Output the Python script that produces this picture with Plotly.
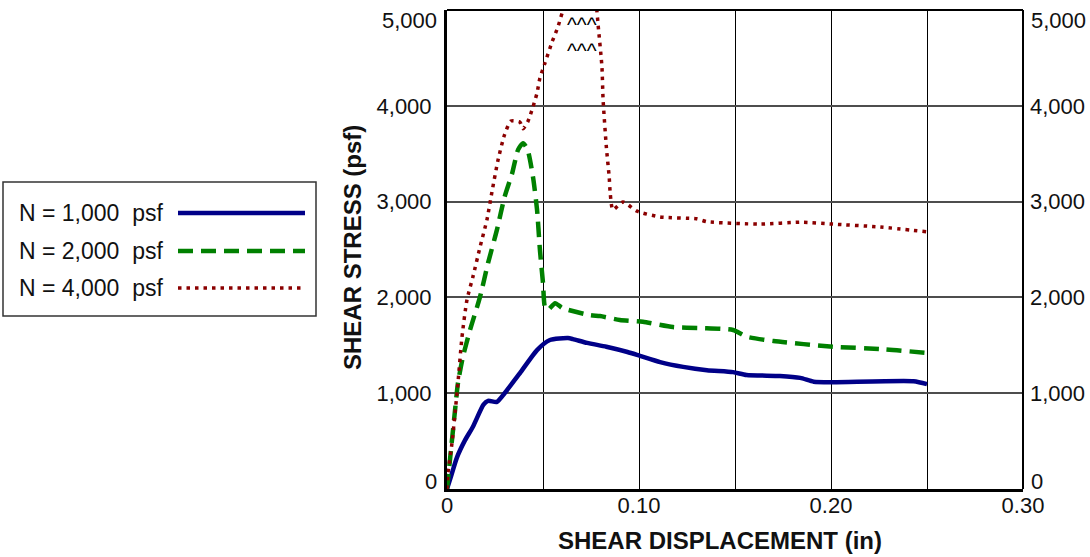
import plotly.graph_objects as go

# Shear displacement (in) vs shear stress (psf) for three normal loads
disp_1000 = [0, 0.0016, 0.0052, 0.0094, 0.0135, 0.019, 0.0214, 0.026, 0.030, 0.038, 0.0469,
             0.0536, 0.063, 0.0656, 0.073, 0.083, 0.094, 0.1005, 0.111, 0.123, 0.1354, 0.149,
             0.156, 0.1734, 0.184, 0.191, 0.201, 0.243, 0.25]
stress_1000 = [0, 100, 330, 510, 650, 880, 920, 910, 1000, 1210, 1450,
               1555, 1575, 1565, 1525, 1485, 1430, 1390, 1325, 1275, 1240, 1220,
               1190, 1180, 1160, 1120, 1115, 1125, 1095]

disp_2000 = [0, 0.0042, 0.0057, 0.0083, 0.012, 0.0172, 0.0214, 0.026, 0.030, 0.034, 0.037,
             0.0396, 0.042, 0.0448, 0.0469, 0.0484, 0.050, 0.051, 0.0526, 0.0563, 0.060,
             0.0745, 0.0797, 0.09, 0.102, 0.1177, 0.132, 0.149, 0.156, 0.170, 0.201, 0.227, 0.25]
stress_2000 = [0, 825, 1105, 1380, 1660, 2005, 2360, 2705, 3050, 3300, 3540,
               3610, 3540, 3255, 2915, 2495, 2150, 1900, 1870, 1940, 1890,
               1815, 1805, 1765, 1745, 1690, 1680, 1660, 1590, 1545, 1485, 1460, 1420]

disp_4000 = [0, 0.0005, 0.0026, 0.0042, 0.0057, 0.0078, 0.0104, 0.0135, 0.0172, 0.0208, 0.0234,
             0.0266, 0.030, 0.0333, 0.038, 0.0396, 0.042, 0.0448, 0.0469, 0.0484, 0.051, 0.0547,
             0.0578, 0.060, 0.064, 0.070, 0.0765, 0.078, 0.0787, 0.0807, 0.0813, 0.083, 0.0845,
             0.085, 0.0864, 0.0917, 0.099, 0.111, 0.130, 0.1354, 0.163, 0.185, 0.201, 0.2255, 0.25]
stress_4000 = [0, 165, 480, 795, 1105, 1585, 1975, 2215, 2525, 2810, 3100,
               3435, 3700, 3840, 3830, 3760, 3830, 3990, 4135, 4290, 4445, 4665,
               4825, 4970, 5150, 5250, 5150, 5000, 4845, 4405, 4060, 3570, 3250,
               3090, 2915, 2995, 2900, 2840, 2820, 2790, 2765, 2785, 2765, 2735, 2685]

series = [
    ("N = 1,000  psf", disp_1000, stress_1000, "#000088", "solid", 4.5),
    ("N = 2,000  psf", disp_2000, stress_2000, "#008000", "15px,8px", 4.5),
    ("N = 4,000  psf", disp_4000, stress_4000, "#8b0000", "3.5px,5px", 3.5),
]

x_ticks = [0, 0.05, 0.10, 0.15, 0.20, 0.25, 0.30]
x_tick_text = ["0", "", "0.10", "", "0.20", "", "0.30"]
y_ticks = [0, 1000, 2000, 3000, 4000, 5000]
y_tick_text = ["", "1,000", "2,000", "3,000", "4,000", ""]
y_end_labels = [(0, "0"), (5000, "5,000")]

W, H = 1090, 557
ML, MR, MT, MB = 447, 67, 10, 68
FONT = "Arial, Liberation Sans, sans-serif"


def px_x(px):
    return (px - ML) / (W - ML - MR)


def px_y(py):
    return (H - MB - py) / (H - MT - MB)


fig = go.Figure()
for name, xs, ys, color, dash, width in series:
    fig.add_trace(go.Scatter(
        x=xs, y=ys, mode="lines", name=name, showlegend=False,
        line=dict(color=color, width=width, dash=dash, shape="spline", smoothing=0.6),
    ))

# invisible trace so the mirrored right-hand stress axis is drawn
fig.add_trace(go.Scatter(x=[0], y=[0], yaxis="y2", mode="lines",
                         line=dict(width=0), showlegend=False, hoverinfo="skip"))

tick_font = dict(family=FONT, size=22, color="#111")
title_font = dict(family=FONT, size=24, color="#111")

fig.update_layout(
    width=W, height=H,
    margin=dict(l=ML, r=MR, t=MT, b=MB, autoexpand=False),
    paper_bgcolor="white", plot_bgcolor="white",
    showlegend=False,
    xaxis=dict(
        range=[0, 0.30], tickvals=x_ticks, ticktext=x_tick_text,
        showgrid=True, gridcolor="#000", gridwidth=1.2,
        showline=True, linecolor="#000", linewidth=3, automargin=False,
        ticks="", tickfont=tick_font, zeroline=False, ticklabelstandoff=-5,
    ),
    yaxis=dict(
        range=[0, 5000], tickvals=y_ticks, ticktext=y_tick_text,
        showgrid=True, gridcolor="#4d4d4d", gridwidth=2, automargin=False,
        showline=True, linecolor="#000", linewidth=3,
        ticks="", tickfont=tick_font, zeroline=False, ticklabelstandoff=8,
    ),
    yaxis2=dict(
        range=[0, 5000], tickvals=y_ticks, ticktext=y_tick_text,
        overlaying="y", side="right", anchor="x", automargin=False,
        showgrid=False, showline=False, zeroline=False,
        ticks="", tickfont=tick_font, ticklabelstandoff=6,
    ),
)

shapes = [
    # top and right frame lines
    dict(type="line", xref="paper", yref="paper", x0=0, x1=1, y0=1, y1=1,
         line=dict(color="#000", width=2)),
    dict(type="line", xref="paper", yref="paper", x0=1, x1=1, y0=0, y1=1,
         line=dict(color="#000", width=2)),
    # legend frame
    dict(type="rect", xref="paper", yref="paper",
         x0=px_x(3), x1=px_x(316), y0=px_y(316), y1=px_y(182),
         line=dict(color="#333", width=1.5), fillcolor="white"),
]

annotations = []
legend_rows = [213, 251, 288]
for (name, _, _, color, dash, width), row in zip(series, legend_rows):
    shapes.append(dict(type="line", xref="paper", yref="paper",
                       x0=px_x(178), x1=px_x(305), y0=px_y(row), y1=px_y(row),
                       line=dict(color=color, width=width, dash=dash)))
    annotations.append(dict(xref="paper", yref="paper", x=px_x(17), y=px_y(row),
                            text=name, showarrow=False, xanchor="left", yanchor="middle",
                            font=dict(family=FONT, size=23, color="#111")))

# end labels of the stress axes, nudged inside the frame
for val, txt in y_end_labels:
    yshift = 8 if val == 0 else -10
    annotations.append(dict(xref="paper", yref="y", x=0, y=val, text=txt, showarrow=False,
                            xanchor="right", yanchor="middle", xshift=-8, yshift=yshift,
                            font=tick_font))
    annotations.append(dict(xref="paper", yref="y", x=1, y=val, text=txt, showarrow=False,
                            xanchor="left", yanchor="middle", xshift=6, yshift=yshift,
                            font=tick_font))

# off-scale markers for the N = 4,000 psf peak
for yv in [4850, 4580]:
    annotations.append(dict(x=0.0705, y=yv, text="^^^", showarrow=False,
                            xanchor="center", yanchor="middle",
                            font=dict(family=FONT, size=21, color="#000")))

# axis titles
annotations.append(dict(xref="paper", yref="paper", x=px_x(720), y=px_y(540),
                        text="<b>SHEAR DISPLACEMENT (in)</b>", showarrow=False,
                        xanchor="center", yanchor="middle", font=title_font))
annotations.append(dict(xref="paper", yref="paper", x=px_x(352), y=px_y(248),
                        text="<b>SHEAR STRESS (psf)</b>", showarrow=False, textangle=-90,
                        xanchor="center", yanchor="middle", font=title_font))

fig.update_layout(shapes=shapes, annotations=annotations)
fig.write_html("out.html")
